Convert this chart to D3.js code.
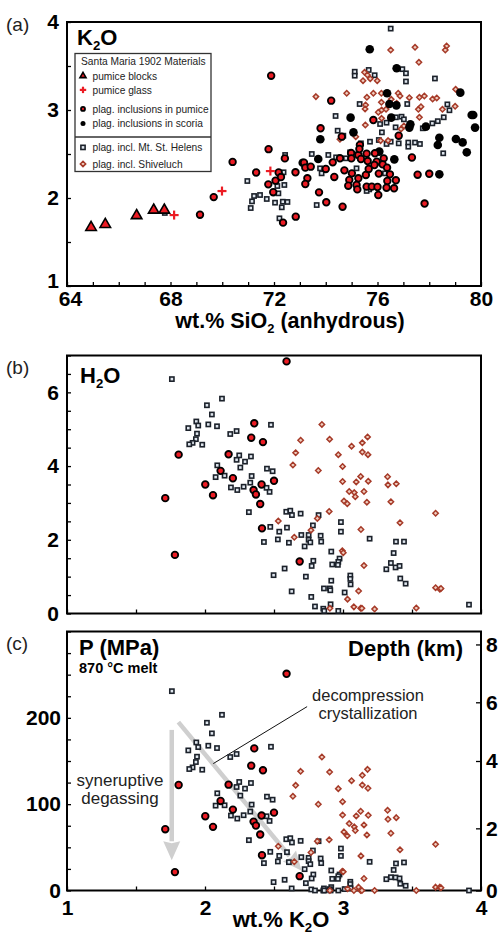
<!DOCTYPE html>
<html>
<head>
<meta charset="utf-8">
<script src="https://cdn.jsdelivr.net/npm/d3@7"></script>
<style>
  body { margin: 0; background: #fff; }
  svg { display: block; font-family: "Liberation Sans", Arial, sans-serif; }
</style>
</head>
<body>
<svg id="chart" width="502" height="941"></svg>
<script>
// ---- panel (a): SiO2 vs K2O ----
const aBlocks = [[64.93,1.666],[65.48,1.70],[66.69,1.80],[67.35,1.863],[67.76,1.863]];
const aGlass = [[68.14,1.806],[69.99,2.079],[71.86,2.306]];
const aPumice = [
  [69.14,1.81],[69.67,2.01],[70.40,2.41],[71.31,2.29],[71.89,3.39],[71.79,2.555],[71.78,2.155],[71.97,2.066],
  [72.06,2.197],[72.18,2.29],[72.27,2.238],[72.42,2.45],[72.35,1.72],[72.84,1.788],[72.83,2.292],
  [73.16,2.401],[73.21,2.345],[73.42,2.356],[73.29,2.224],[73.21,2.159],[73.74,2.064],[74.02,1.951],[74.65,1.901],
  [74.00,2.33],[74.27,2.405],[74.55,2.451],[74.33,2.239],[74.72,2.314],[74.98,2.511],[74.99,2.45],[75.26,2.488],
  [75.32,2.602],[75.30,2.557],[75.36,2.443],[75.58,2.504],[75.62,2.42],[75.01,2.28],[74.91,2.205],[75.26,2.224],
  [75.19,2.148],[74.87,2.14],[75.22,2.098],[75.55,2.262],[75.66,2.33],[75.90,2.508],[75.97,2.413],[75.88,2.375],
  [76.05,2.277],[76.24,2.45],[76.20,2.382],[76.37,2.345],[76.48,2.269],[75.58,2.129],[75.78,2.129],[76.00,2.125],
  [76.03,2.034],[76.38,2.193],[76.35,2.117],[76.71,2.201],[76.64,2.11],[76.82,2.708],[73.80,2.792],[74.62,2.697],
  [74.21,3.106],[75.84,2.886],[77.33,2.46],[77.55,2.265],[78.00,2.275],[77.82,1.937]
];
const aScoria = [
  [75.70,3.69],[76.74,3.474],[76.37,3.19],[76.46,3.068],[76.73,3.053],[74.96,2.913],[76.53,2.913],[79.20,3.197],
  [79.64,2.943],[79.70,2.943],[79.77,2.80],[77.27,2.837],[77.23,2.80],[77.87,2.811],[78.39,2.685],[78.33,2.602],
  [79.03,2.67],[79.29,2.632],[79.45,2.519],[78.39,2.269],[75.07,2.746],[73.79,2.667],[73.71,2.443],[76.07,2.527],
  [76.65,2.439],[73.11,2.40]
];
const aHelens = [
  [76.51,3.925],[75.12,3.435],[75.12,3.39],[75.66,3.455],[75.89,3.395],[76.96,3.464],[77.10,3.417],[77.10,3.324],
  [78.22,3.358],[75.31,3.068],[74.38,2.932],[77.15,3.068],[78.70,3.064],[78.78,2.997],[78.56,2.917],[78.33,2.873],
  [78.12,2.848],[77.75,2.792],[76.71,2.917],[76.93,2.924],[77.02,2.894],[76.10,2.841],[76.35,2.856],[76.70,2.803],
  [76.17,2.746],[74.46,2.765],[74.68,2.708],[75.36,2.621],[75.71,2.64],[76.05,2.659],[76.35,2.614],[76.51,2.64],
  [76.82,2.621],[77.19,2.63],[77.19,2.583],[77.45,2.63],[77.64,2.614],[78.54,2.508],[74.94,2.519],[75.07,2.496],
  [74.40,2.462],[74.10,2.489],[73.78,2.337],[73.84,2.28],[73.46,2.50],[72.43,2.489],[72.37,2.292],[72.13,2.136],
  [72.40,2.148],[72.17,2.053],[70.97,2.193],[71.23,2.023],[71.46,2.034],[71.72,1.989],[71.15,1.962],[71.10,1.886],
  [72.04,1.947],[72.34,1.958],[72.52,1.955],[72.30,1.894],[72.21,1.769],[73.65,1.92],[74.78,2.451],[75.19,2.337],
  [76.29,2.28],[75.68,2.098],[75.58,2.08],[67.78,1.83]
];
const aShiv = [
  [73.62,3.152],[74.81,3.19],[75.50,3.428],[75.61,3.398],[75.72,3.356],[75.44,3.333],[75.99,3.333],[76.51,3.682],
  [77.45,3.712],[78.67,3.727],[78.62,3.682],[77.60,3.542],[75.59,3.144],[75.84,3.19],[76.15,3.19],[76.80,3.19],
  [76.87,3.159],[77.23,3.14],[77.62,3.144],[77.81,3.159],[78.13,3.125],[78.29,3.136],[79.02,3.235],[78.51,3.008],
  [79.00,3.042],[75.54,3.057],[75.52,3.012],[76.15,3.087],[76.03,2.974],[76.16,3.00],[76.33,3.008],[76.53,3.121],
  [76.74,3.076],[77.58,3.008],[77.68,3.038],[77.62,2.917],[76.16,2.905],[75.53,2.83],[77.02,2.818],[76.91,2.784],
  [75.16,2.697],[74.55,2.667],[76.41,2.652],[76.12,2.652]
];

// ---- panels (b) and (c): [K2O, H2O, P (MPa)] ----
const bcPumice = [
  [2.591,6.84,251],[2.357,5.16,164.6],[2.335,4.77,144.6],[2.42,4.65,139.2],[1.809,4.31,122.2],[2.171,4.32,122.6],
  [2.113,3.87,103.7],[2.202,3.67,93.7],[2.002,3.50,86.0],[2.058,3.21,73.7],[2.41,3.50,86.8],[2.50,3.60,90.2],
  [2.352,3.35,79.8],[2.369,3.23,75.2],[2.40,2.97,64.8],[1.712,3.13,71.0],[2.413,2.31,40.9],[1.782,1.59,21.3],
  [2.686,1.41,16.6]
];
const bcHelens = [
  [1.760,6.36,230.9],[2.123,5.83,203.5],[2.014,5.65,194.3],[2.05,5.40,182.0],[1.937,5.21,171.5],[1.951,5.10,166.1],
  [2.024,5.13,167.7],[2.087,5.08,165.0],[1.879,5.03,162.3],[2.478,5.12,166.5],[2.183,4.87,154.6],[2.229,4.95,158.1],
  [1.942,4.88,155.0],[1.934,4.73,148.8],[1.910,4.63,142.6],[1.886,4.59,140.7],[1.98,4.58,139.9],[2.248,4.29,125.7],
  [2.333,4.26,124.5],[2.229,4.17,119.9],[2.29,4.12,118.0],[2.256,3.96,109.9],[2.089,4.02,112.6],[2.142,3.74,98.7],
  [2.077,3.70,98.3],[2.338,3.73,99.5],[2.328,3.55,91.4],[2.449,3.93,108.7],[2.49,3.86,105.2],[2.188,3.42,86.8],
  [2.234,3.35,83.3],[2.28,3.44,87.2],[2.446,3.41,86.0],[2.468,3.30,80.6],[2.318,2.75,58.3],[2.589,2.76,59.4],
  [2.618,2.79,60.6],[2.63,2.67,55.6],[2.693,2.71,57.5],[2.823,2.67,57.1],[2.473,2.35,44.8],[2.594,2.33,44.4],
  [2.538,2.22,40.1],[2.528,2.01,33.6],[2.427,1.94,31.7],[2.608,1.92,32.8],[2.698,2.13,38.6],[2.751,2.13,37.8],
  [2.782,2.39,46.3],[2.751,2.00,34.0],[2.763,1.93,30.5],[2.722,1.82,24.7],[2.838,2.11,37.1],[2.842,1.95,31.7],
  [2.985,2.48,48.6],[2.985,2.22,40.1],[3.193,2.03,33.2],[2.915,1.68,23.2],[2.975,1.49,18.5],[2.966,1.40,16.6],
  [2.922,1.33,13.5],[2.963,1.32,13.5],[2.785,1.43,18.5],[2.773,1.29,13.9],[2.577,1.22,12.4],[2.731,1.00,8.5],
  [2.497,1.04,9.7],[3.053,1.03,10.1],[3.053,0.94,7.4],[3.055,0.79,2.7],[2.915,0.89,3.9],[2.862,0.68,2.4],
  [2.905,0.68,1.6],[2.908,0.63,0.5],[2.628,0.60,2.4],[2.77,0.45,1.2],[3.012,0.57,1.6],[2.797,0.19,0],
  [2.857,0.13,0],[2.864,0.07,0],[2.91,0.25,0],[2.966,0.07,0],[3.384,1.95,31.3],[3.442,1.95,32.5],
  [3.367,1.64,23.8],[3.347,1.37,15.4],[3.314,1.20,13.1],[3.381,1.25,15.1],[3.41,1.29,14.0],[3.415,0.95,7.8],
  [3.454,0.81,5.5],[3.913,0.24,0]
];
const bcShiv = [
  [2.847,5.13,154.6],[2.693,4.70,138.0],[2.903,4.73,137.3],[3.178,4.79,140.3],[3.062,4.54,127.2],[3.14,4.63,133.4],
  [2.657,4.36,121.8],[2.966,4.31,118.0],[3.14,4.38,122.2],[3.181,4.31,118.4],[2.637,4.03,109.1],[2.997,3.99,102.9],
  [2.821,3.88,99.9],[3.128,3.72,91.8],[2.997,3.58,87.5],[3.096,3.57,86.4],[3.183,3.59,87.2],[3.323,3.71,92.9],
  [3.326,3.49,82.5],[3.386,3.52,84.4],[3.045,3.31,77.5],[3.082,3.28,73.7],[3.089,3.17,69.4],[3.152,3.31,76.0],
  [3.007,3.05,67.9],[3.031,2.98,63.3],[3.173,3.02,64.4],[3.347,3.03,66.3],[2.90,2.77,58.7],[3.671,2.72,53.6],
  [2.531,2.51,51.3],[2.814,2.58,57.1],[3.413,2.46,47.1],[2.768,2.26,44.0],[2.647,2.07,33.2],[3.13,2.28,40.1],
  [2.995,1.70,22.4],[3.002,1.65,21.6],[3.152,1.30,13.9],[3.113,0.61,3.9],[3.033,0.39,2.0],[3.079,0.18,0],
  [3.128,0.14,0],[3.137,0.14,0],[3.229,0.12,0],[2.905,0.14,0],[3.531,0.15,0],[3.671,0.70,3.9],
  [3.702,0.66,3.9],[3.71,0.68,3.1]
];

// depth axis: km labels and the pressure they sit at
const depthKm = [0, 2, 4, 6, 8];
const depthMPa = [0, 72, 150, 218, 285];

// arrows in panel (c), [K2O, P]
const arrowDegas = [[1.759,186],[1.759,35]];
const arrowDecomp = [[1.807,195],[2.70,23]];
const leader = [[2.06,147],[2.74,213]];

const svg = d3.select('#chart');
const RED = '#ec1c24', SHIV = '#a63a28';
const X0 = 67, X1 = 481;

const xA = d3.scaleLinear().domain([64, 80]).range([X0, X1]);
const yA = d3.scaleLinear().domain([1, 4]).range([286, 22]);
const xK = d3.scaleLinear().domain([1, 4]).range([X0, X1]);
const yB = d3.scaleLinear().domain([0, 7]).range([613.5, 355.5]);
const yC = d3.scaleLinear().domain([0, 300]).range([890.5, 631.5]);
const yDepth = d3.scaleLinear().domain(depthKm).range(depthMPa.map(yC));

function frame(y0, y1) {
  svg.append('rect').attr('x', X0).attr('y', y0).attr('width', X1 - X0).attr('height', y1 - y0)
    .attr('fill', 'none').attr('stroke', '#000').attr('stroke-width', 2);
}

function styleAxis(g, size) {
  g.select('.domain').remove();
  g.selectAll('.tick line').attr('stroke', '#000').attr('stroke-width', 1.3);
  g.selectAll('.tick text').attr('font-size', size).attr('font-weight', 'bold').attr('fill', '#000')
    .attr('font-family', '"Liberation Sans", Arial, sans-serif');
}

function fmt(labels) { return d => labels.includes(d) ? d : ''; }

// --- frames + axes
frame(22, 286);
frame(355.5, 613.5);
frame(631.5, 890.5);

svg.append('g').attr('transform', `translate(${X0},0)`)
  .call(d3.axisLeft(yA).tickValues(d3.range(1, 4.01, 0.5)).tickSize(-4).tickPadding(8).tickFormat(fmt([1,2,3,4])))
  .call(g => styleAxis(g, 21))
  .call(g => g.selectAll('.tick text').filter(d => d === 1).attr('dy', '0.05em'));
svg.append('g').attr('transform', 'translate(0,286)')
  .call(d3.axisBottom(xA).tickValues(d3.range(64, 80.01, 1)).tickSize(-4).tickPadding(5).tickFormat(fmt([64,68,72,76,80])))
  .call(g => styleAxis(g, 21))
  .call(g => g.selectAll('.tick text').filter(d => d === 64).attr('x', 3));

svg.append('g').attr('transform', `translate(${X0},0)`)
  .call(d3.axisLeft(yB).tickValues(d3.range(0, 7.01, 0.5)).tickSize(-4).tickPadding(8).tickFormat(fmt([0,2,4,6])))
  .call(g => styleAxis(g, 21));
svg.append('g').attr('transform', 'translate(0,613.5)')
  .call(d3.axisBottom(xK).tickValues(d3.range(1, 4.01, 0.5)).tickSize(-4).tickFormat(''))
  .call(g => styleAxis(g, 21));

svg.append('g').attr('transform', `translate(${X0},0)`)
  .call(d3.axisLeft(yC).tickValues(d3.range(0, 300.1, 25)).tickSize(-4).tickPadding(6).tickFormat(fmt([0,100,200])))
  .call(g => styleAxis(g, 21));
svg.append('g').attr('transform', 'translate(0,890.5)')
  .call(d3.axisBottom(xK).tickValues(d3.range(1, 4.01, 0.5)).tickSize(-4).tickPadding(10).tickFormat(fmt([1,2,3,4])))
  .call(g => styleAxis(g, 21));
svg.append('g').attr('transform', `translate(${X1},0)`)
  .call(d3.axisRight(yDepth).tickValues(depthKm).tickSize(-5).tickPadding(5))
  .call(g => styleAxis(g, 21));

// --- marker helpers
function squares(data, x, y) {
  svg.append('g').selectAll('rect').data(data).join('rect')
    .attr('x', d => x(d) - 2.1).attr('y', d => y(d) - 2.1).attr('width', 4.2).attr('height', 4.2)
    .attr('fill', '#dfe6ee').attr('stroke', '#1c222b').attr('stroke-width', 1.6);
}
function diamonds(data, x, y) {
  svg.append('g').selectAll('path').data(data).join('path')
    .attr('d', d => `M${x(d)},${y(d) - 2.7}L${x(d) + 2.7},${y(d)}L${x(d)},${y(d) + 2.7}L${x(d) - 2.7},${y(d)}Z`)
    .attr('fill', '#efcdbf').attr('stroke', SHIV).attr('stroke-width', 1.5);
}
function redDots(data, x, y, r = 3.3) {
  svg.append('g').selectAll('circle').data(data).join('circle')
    .attr('cx', x).attr('cy', y).attr('r', r)
    .attr('fill', RED).attr('stroke', '#000').attr('stroke-width', 1.8);
}
function blackDots(data, x, y, r = 4.3) {
  svg.append('g').selectAll('circle').data(data).join('circle')
    .attr('cx', x).attr('cy', y).attr('r', r).attr('fill', '#000');
}
function triangles(data, x, y, size = 48) {
  svg.append('g').selectAll('path').data(data).join('path')
    .attr('transform', d => `translate(${x(d)},${y(d)})`)
    .attr('d', d3.symbol(d3.symbolTriangle, size))
    .attr('fill', RED).attr('stroke', '#000').attr('stroke-width', 1.6);
}
function crosses(data, x, y, s = 4.5) {
  const g = svg.append('g').attr('stroke', RED).attr('stroke-width', 2.2);
  data.forEach(d => {
    g.append('line').attr('x1', x(d) - s).attr('x2', x(d) + s).attr('y1', y(d)).attr('y2', y(d));
    g.append('line').attr('x1', x(d)).attr('x2', x(d)).attr('y1', y(d) - s).attr('y2', y(d) + s);
  });
}

// --- panel (a) marks
const ax = d => xA(d[0]), ay = d => yA(d[1]);
squares(aHelens, ax, ay);
diamonds(aShiv, ax, ay);
blackDots(aScoria, ax, ay);
redDots(aPumice, ax, ay);
triangles(aBlocks, ax, ay);
crosses(aGlass, ax, ay);

// --- panel (b) marks
const bx = d => xK(d[0]), by = d => yB(d[1]), cy = d => yC(d[2]);
squares(bcHelens, bx, by);
diamonds(bcShiv, bx, by);
redDots(bcPumice, bx, by);

// --- panel (c) arrows + marks
const line = d3.line().x(d => xK(d[0])).y(d => yC(d[1]));
function arrow(pts) {
  const p0 = [xK(pts[0][0]), yC(pts[0][1])], p1 = [xK(pts[1][0]), yC(pts[1][1])];
  const ang = Math.atan2(p1[1] - p0[1], p1[0] - p0[0]);
  const L = 19, Wd = 8.5;
  const bx0 = p1[0] - L * Math.cos(ang), by0 = p1[1] - L * Math.sin(ang);
  svg.append('line').attr('x1', p0[0]).attr('y1', p0[1]).attr('x2', bx0).attr('y2', by0)
    .attr('stroke', '#cfcfcf').attr('stroke-width', 4.5);
  const nx = -Math.sin(ang), ny = Math.cos(ang);
  svg.append('path')
    .attr('d', `M${p1[0]},${p1[1]}L${bx0 + nx * Wd},${by0 + ny * Wd}L${bx0 + 2 * Math.cos(ang)},${by0 + 2 * Math.sin(ang)}L${bx0 - nx * Wd},${by0 - ny * Wd}Z`)
    .attr('fill', '#cfcfcf');
}
arrow(arrowDegas);
arrow(arrowDecomp);
svg.append('path').attr('d', line(leader)).attr('stroke', '#111').attr('stroke-width', 1).attr('fill', 'none');

squares(bcHelens, bx, cy);
diamonds(bcShiv, bx, cy);
redDots(bcPumice, bx, cy);

// --- text
function txt(x, y, s, size, opts = {}) {
  return svg.append('text').attr('x', x).attr('y', y).attr('font-size', size)
    .attr('font-weight', opts.bold ? 'bold' : 'normal').attr('fill', opts.fill || '#000')
    .attr('text-anchor', opts.anchor || 'start').text(s);
}
function withSub(x, y, parts, size, anchor = 'start') {
  const t = svg.append('text').attr('x', x).attr('y', y).attr('font-size', size)
    .attr('font-weight', 'bold').attr('text-anchor', anchor);
  parts.forEach(p => {
    if (p.sub) t.append('tspan').attr('font-size', size * 0.6).attr('dy', size * 0.22).text(p.sub);
    else t.append('tspan').attr('dy', p.back ? -size * 0.22 : 0).text(p.t);
  });
  return t;
}

txt(6, 31, '(a)', 19, { fill: '#222' });
txt(6, 374, '(b)', 19, { fill: '#222' });
txt(6, 650, '(c)', 19, { fill: '#222' });

withSub(77, 45, [{ t: 'K' }, { sub: '2' }, { t: 'O', back: true }], 22);
withSub(80, 383, [{ t: 'H' }, { sub: '2' }, { t: 'O', back: true }], 22);
withSub(290, 328, [{ t: 'wt.% SiO' }, { sub: '2' }, { t: ' (anhydrous)', back: true }], 21.5, 'middle');
withSub(281, 927, [{ t: 'wt.% K' }, { sub: '2' }, { t: 'O', back: true }], 22, 'middle');

txt(79, 655, 'P (MPa)', 22, { bold: true });
txt(79, 673, '870 °C melt', 14.5, { bold: true });
txt(463, 656, 'Depth (km)', 22, { bold: true, anchor: 'end' });

txt(368, 701, 'decompression', 16.5, { anchor: 'middle', fill: '#222' });
txt(368, 719, 'crystallization', 16.5, { anchor: 'middle', fill: '#222' });
txt(120, 786, 'syneruptive', 17, { anchor: 'middle', fill: '#222' });
txt(120, 804, 'degassing', 17, { anchor: 'middle', fill: '#222' });

// --- legend
const lg = svg.append('g');
lg.append('rect').attr('x', 75).attr('y', 53.5).attr('width', 136).attr('height', 118)
  .attr('fill', '#fff').attr('stroke', '#333').attr('stroke-width', 1.3);
lg.append('line').attr('x1', 75).attr('x2', 211).attr('y1', 137).attr('y2', 137)
  .attr('stroke', '#333').attr('stroke-width', 1.3);
const legendRows = [
  ['Santa Maria 1902 Materials', null, 65],
  ['pumice blocks', 'tri', 79.5],
  ['pumice glass', 'cross', 93.5],
  ['plag. inclusions in pumice', 'red', 112.5],
  ['plag. inclusions in scoria', 'black', 127],
  ['plag. incl. Mt. St. Helens', 'sq', 151],
  ['plag. incl. Shiveluch', 'dia', 167.5]
];
legendRows.forEach(([label, sym, y]) => {
  lg.append('text').attr('x', sym ? 92.5 : 81).attr('y', y).attr('font-size', 10.2).attr('fill', '#222').text(label);
  const sx = 83, sy = y - 3.6;
  const one = [[0, 0]], px = () => sx, py = () => sy;
  if (sym === 'tri') triangles(one, px, py, 16);
  if (sym === 'cross') crosses(one, px, py, 3.2);
  if (sym === 'red') redDots(one, px, py, 2);
  if (sym === 'black') blackDots(one, px, py, 2.5);
  if (sym === 'sq') squares(one, px, py);
  if (sym === 'dia') diamonds(one, px, py);
});
</script>
</body>
</html>
